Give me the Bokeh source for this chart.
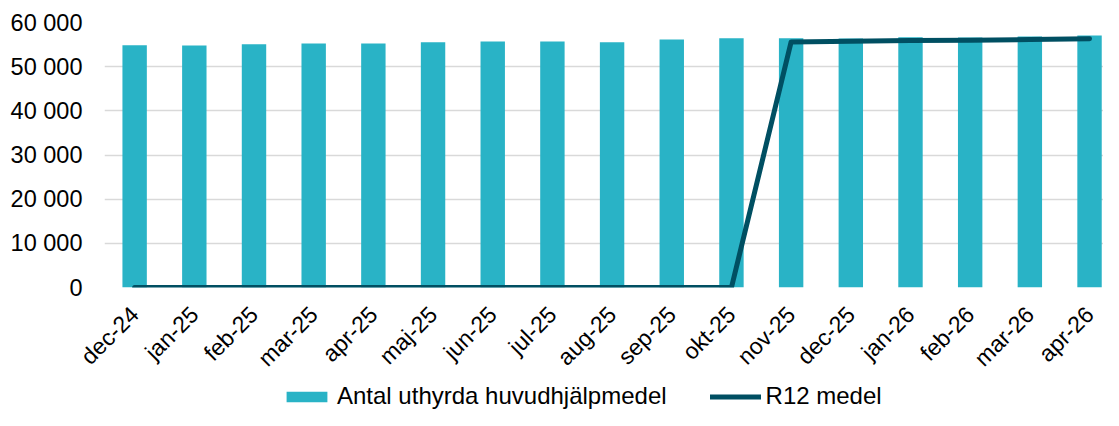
import math
from bokeh.plotting import figure
from bokeh.layouts import column
from bokeh.models import Range1d, FixedTicker, Legend, LegendItem, ColumnDataSource
from bokeh.embed import file_html
from bokeh.resources import INLINE

months = ["dec-24", "jan-25", "feb-25", "mar-25", "apr-25", "maj-25", "jun-25", "jul-25",
          "aug-25", "sep-25", "okt-25", "nov-25", "dec-25", "jan-26", "feb-26", "mar-26", "apr-26"]
antal = [54860, 54790, 55090, 55240, 55240, 55540, 55700, 55700,
         55540, 56150, 56450, 56450, 56380, 56670, 56600, 56830, 57060]
r12 = [0, 0, 0, 0, 0, 0, 0, 0,
       0, 0, 0, 55600, 55750, 55900, 56000, 56150, 56300]
y_ticks = [0, 10000, 20000, 30000, 40000, 50000, 60000]
y_labels = ["0", "10 000", "20 000", "30 000", "40 000", "50 000", "60 000"]
series_names = ["Antal uthyrda huvudhjälpmedel", "R12 medel"]

BAR = "#29B3C6"
LINE = "#004F62"
FONT = "Liberation Sans"

xs = list(range(len(months)))
src = ColumnDataSource(dict(x=xs, antal=antal, r12=r12))

p = figure(width=1103, height=383, output_backend="svg", toolbar_location=None,
           x_range=Range1d(-0.505, 16.234), y_range=Range1d(0, 60000),
           min_border_left=104, min_border_right=0, min_border_top=22, min_border_bottom=96)
p.outline_line_color = None
p.background_fill_color = "white"

bars = p.vbar(x="x", top="antal", width=0.409, source=src, fill_color=BAR, line_color=None)
ln = p.line(x="x", y="r12", source=src, line_color=LINE, line_width=5,
            line_cap="round", line_join="round")

# axes
p.xaxis.ticker = FixedTicker(ticks=xs)
p.xaxis.major_label_overrides = {i: m for i, m in enumerate(months)}
p.xaxis.major_label_orientation = math.pi / 4
p.xaxis.axis_line_color = None
p.xaxis.major_tick_line_color = None
p.xaxis.major_tick_out = 0
p.xaxis.major_tick_in = 0
p.xaxis.minor_tick_line_color = None
p.xaxis.minor_tick_out = 0
p.xaxis.major_label_text_font = FONT
p.xaxis.major_label_text_font_size = "23px"
p.xaxis.major_label_text_color = "black"
p.xaxis.major_label_standoff = 23

p.yaxis.ticker = FixedTicker(ticks=y_ticks)
p.yaxis.major_label_overrides = {t: l for t, l in zip(y_ticks, y_labels)}
p.yaxis.axis_line_color = None
p.yaxis.major_tick_line_color = None
p.yaxis.major_tick_out = 0
p.yaxis.major_tick_in = 0
p.yaxis.minor_tick_line_color = None
p.yaxis.minor_tick_out = 0
p.yaxis.major_label_text_font = FONT
p.yaxis.major_label_text_font_size = "23.5px"
p.yaxis.major_label_text_color = "black"
p.yaxis.major_label_standoff = 22

p.xgrid.grid_line_color = None
p.ygrid.grid_line_color = "#D9D9D9"
p.ygrid.grid_line_width = 1.6
p.ygrid.ticker = FixedTicker(ticks=y_ticks)

# legend strip below the chart (its frame is aligned with the chart frame)
nan = float("nan")
leg = figure(width=1103, height=27, output_backend="svg", toolbar_location=None,
             x_range=Range1d(0, 1), y_range=Range1d(0, 1),
             min_border_left=104, min_border_right=0, min_border_top=0, min_border_bottom=0)
leg.axis.visible = False
leg.grid.visible = False
leg.outline_line_color = None
lb = leg.vbar(x=[nan], top=[nan], width=1, fill_color=BAR, line_color=None)
ll = leg.line(x=[nan], y=[nan], line_color=LINE, line_width=5, line_cap="round")

legend = Legend(items=[LegendItem(label=series_names[0], renderers=[lb]),
                       LegendItem(label=series_names[1], renderers=[ll])],
                orientation="horizontal", location=(177, 0),
                glyph_width=51, glyph_height=13, label_standoff=5, spacing=43,
                padding=0, margin=0, border_line_color=None, background_fill_alpha=0,
                label_text_font=FONT, label_text_font_size="24px", label_text_color="black",
                label_height=24)
leg.add_layout(legend, "center")

layout = column(p, leg, spacing=0)
open("out.html", "w").write(file_html(layout, INLINE))
